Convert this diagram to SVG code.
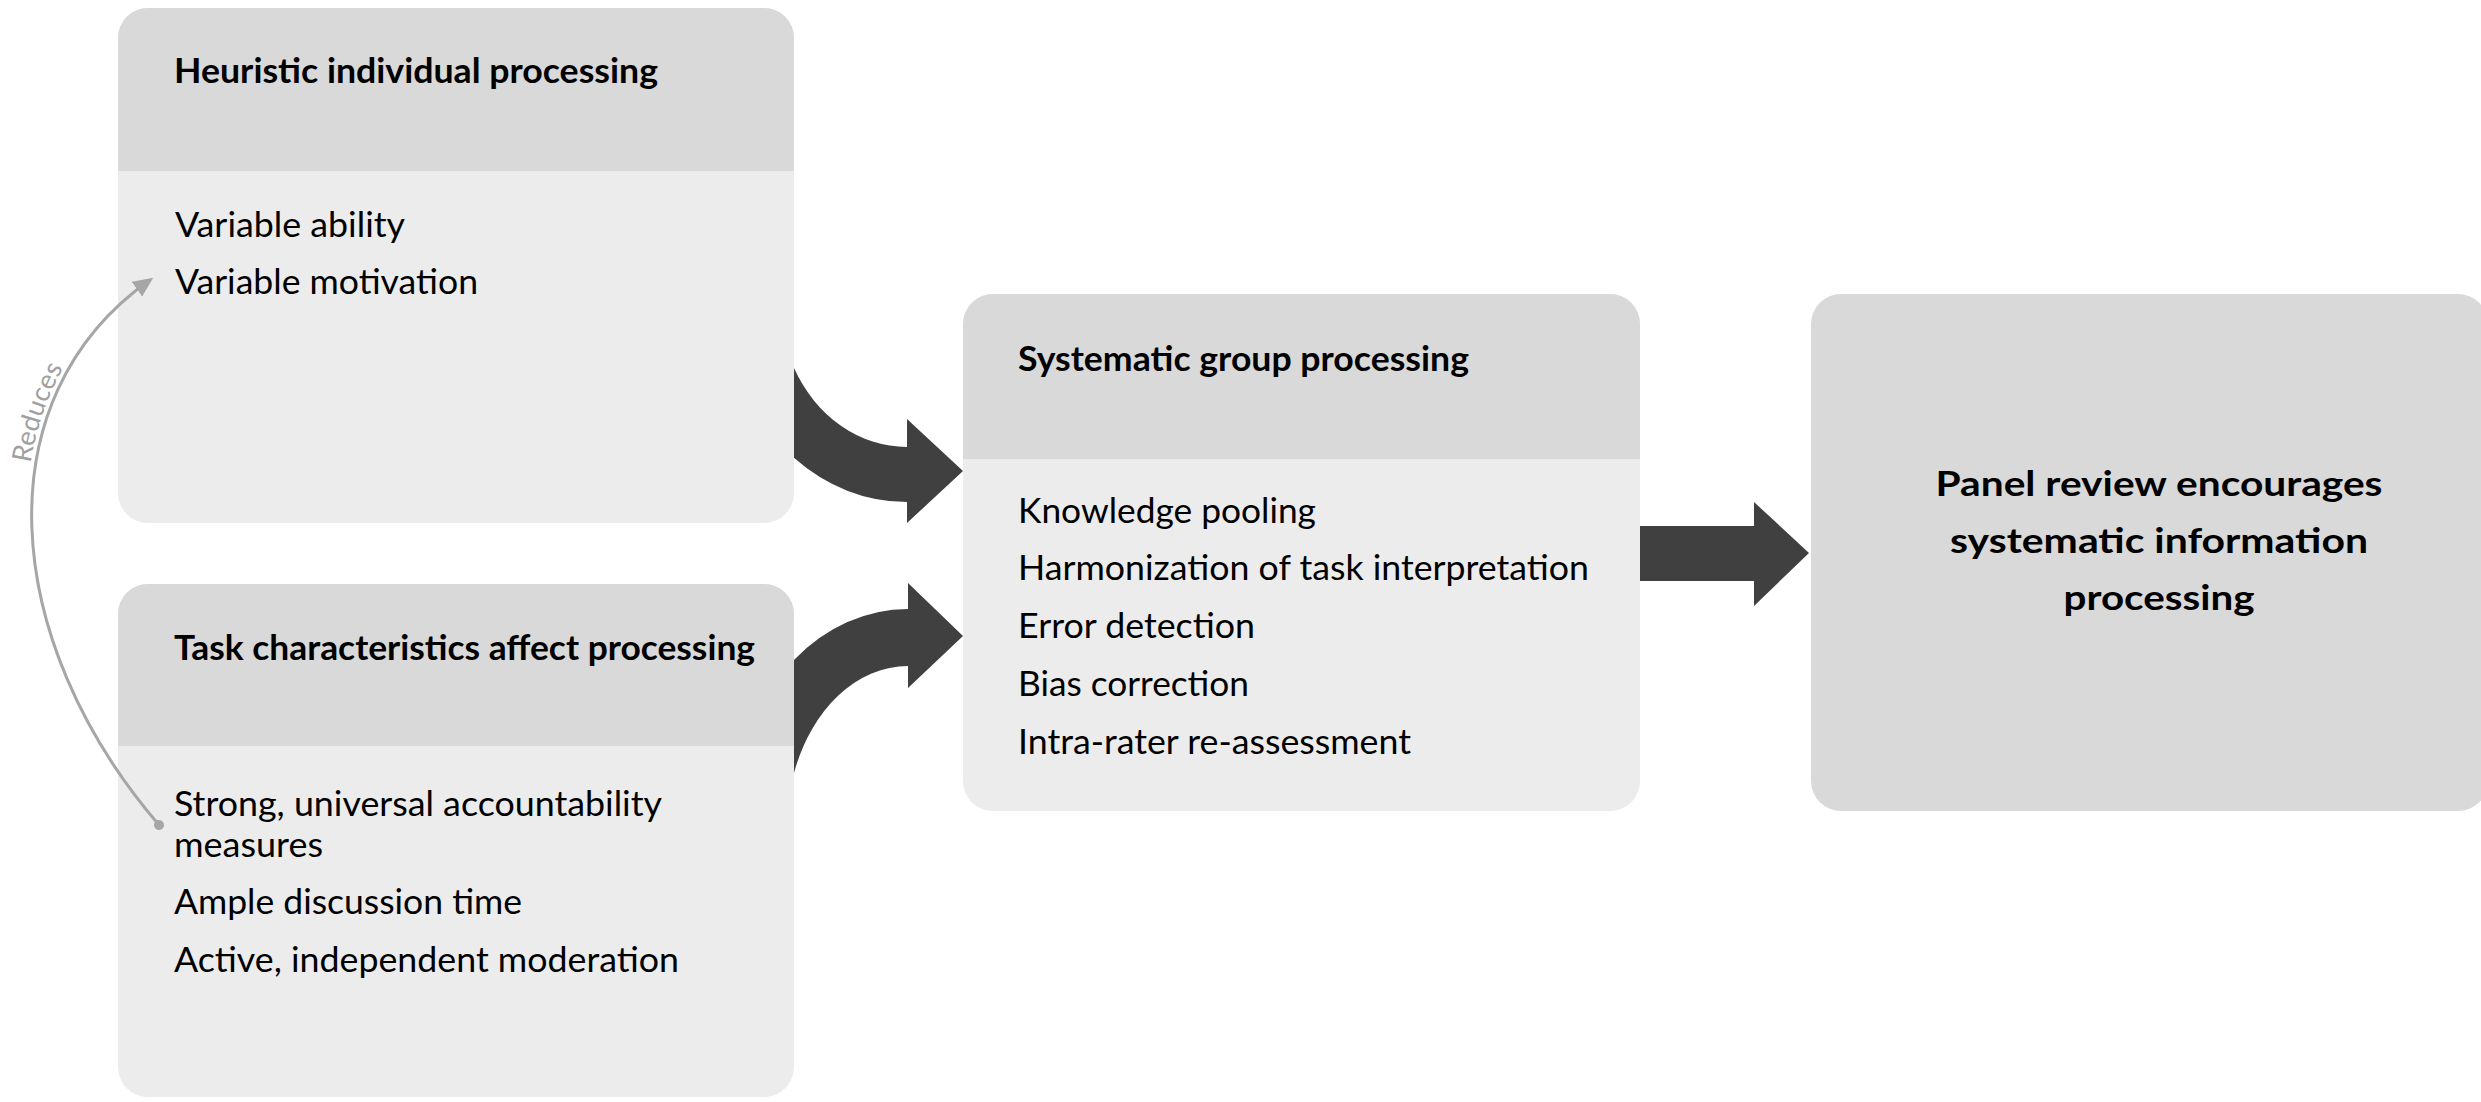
<svg xmlns="http://www.w3.org/2000/svg" width="2481" height="1102" viewBox="0 0 2481 1102">
  <defs>
    <style>
      .hdr { fill: #d9d9d9; }
      .bdy { fill: #ececec; }
      .t { font-family: Lato, "Liberation Sans", sans-serif; font-size: 34px; fill: #000; }
      .b { font-weight: 700; }
      .blk { fill: #404040; }
      .red { fill: none; stroke: #a6a6a6; stroke-width: 3; }
      .lbl { font-family: Lato, "Liberation Sans", sans-serif; font-size: 27px; fill: #a0a0a0; }
    </style>
    <marker id="arrowHead" viewBox="0 0 20 18" refX="16" refY="9" markerWidth="20" markerHeight="18" markerUnits="userSpaceOnUse" orient="auto">
      <path d="M0,0 L20,9 L0,18 Z" fill="#a6a6a6"/>
    </marker>
    <marker id="dot" viewBox="0 0 12 12" refX="6" refY="6" markerWidth="12" markerHeight="12" markerUnits="userSpaceOnUse" orient="auto">
      <circle cx="6" cy="6" r="5" fill="#a6a6a6"/>
    </marker>
  </defs>
  <rect width="2481" height="1102" fill="#ffffff"/>

  <g id="node-heuristic">
    <rect class="bdy" x="118" y="8" width="676" height="515" rx="30" ry="30"/>
    <path class="hdr" d="M118,171 V38 A30,30 0 0 1 148,8 H764 A30,30 0 0 1 794,38 V171 Z"/>
    <text class="t b" x="174" y="83" textLength="484" lengthAdjust="spacingAndGlyphs">Heuristic individual processing</text>
    <text class="t" x="175" y="237" textLength="230" lengthAdjust="spacingAndGlyphs">Variable ability</text>
    <text class="t" x="175" y="294" textLength="303" lengthAdjust="spacingAndGlyphs">Variable motivation</text>
  </g>

  <g id="node-task">
    <rect class="bdy" x="118" y="584" width="676" height="513" rx="30" ry="30"/>
    <path class="hdr" d="M118,746 V614 A30,30 0 0 1 148,584 H764 A30,30 0 0 1 794,614 V746 Z"/>
    <text class="t b" x="174" y="660" textLength="581" lengthAdjust="spacingAndGlyphs">Task characteristics affect processing</text>
    <text class="t" x="174" y="816" textLength="488" lengthAdjust="spacingAndGlyphs">Strong, universal accountability</text>
    <text class="t" x="174" y="857" textLength="149" lengthAdjust="spacingAndGlyphs">measures</text>
    <text class="t" x="174" y="914" textLength="348" lengthAdjust="spacingAndGlyphs">Ample discussion time</text>
    <text class="t" x="174" y="972" textLength="505" lengthAdjust="spacingAndGlyphs">Active, independent moderation</text>
  </g>

  <g id="node-systematic">
    <rect class="bdy" x="963" y="294" width="677" height="517" rx="30" ry="30"/>
    <path class="hdr" d="M963,459 V324 A30,30 0 0 1 993,294 H1610 A30,30 0 0 1 1640,324 V459 Z"/>
    <text class="t b" x="1018" y="371" textLength="451" lengthAdjust="spacingAndGlyphs">Systematic group processing</text>
    <text class="t" x="1018" y="523" textLength="298" lengthAdjust="spacingAndGlyphs">Knowledge pooling</text>
    <text class="t" x="1018" y="580" textLength="571" lengthAdjust="spacingAndGlyphs">Harmonization of task interpretation</text>
    <text class="t" x="1018" y="638" textLength="237" lengthAdjust="spacingAndGlyphs">Error detection</text>
    <text class="t" x="1018" y="696" textLength="231" lengthAdjust="spacingAndGlyphs">Bias correction</text>
    <text class="t" x="1018" y="754" textLength="393" lengthAdjust="spacingAndGlyphs">Intra-rater re-assessment</text>
  </g>

  <g id="node-panel">
    <rect class="hdr" x="1811" y="294" width="677" height="517" rx="30" ry="30"/>
    <text class="t b" x="2159" y="496" text-anchor="middle" textLength="447" lengthAdjust="spacingAndGlyphs">Panel review encourages</text>
    <text class="t b" x="2159" y="553" text-anchor="middle" textLength="418" lengthAdjust="spacingAndGlyphs">systematic information</text>
    <text class="t b" x="2159" y="610" text-anchor="middle" textLength="191" lengthAdjust="spacingAndGlyphs">processing</text>
  </g>

  <g id="connectors">
    <path id="arrow-heuristic-systematic" class="blk" d="M794,368.1 A127.5,147 0 0 0 907,447 L907,419 L963,471 L907,523 L907,502 A181,202 0 0 1 794,457.8 Z"/>
    <path id="arrow-task-systematic" class="blk" d="M794,772.9 A121.6,164 0 0 1 908,666 L908,688 L963,636 L908,583 L908,609 A178.5,221 0 0 0 794,659.9 Z"/>
    <path id="arrow-systematic-panel" class="blk" d="M1640,526 L1754,526 L1754,502 L1809,553 L1754,606 L1754,581 L1640,581 Z"/>
    <path id="reduces-path" class="red" d="M159,825 C0,640 -18,398 150,280" marker-start="url(#dot)" marker-end="url(#arrowHead)"/>
    <text class="lbl" dy="-5"><textPath href="#reduces-path" startOffset="393" textLength="100" lengthAdjust="spacingAndGlyphs">Reduces</textPath></text>
  </g>
</svg>
